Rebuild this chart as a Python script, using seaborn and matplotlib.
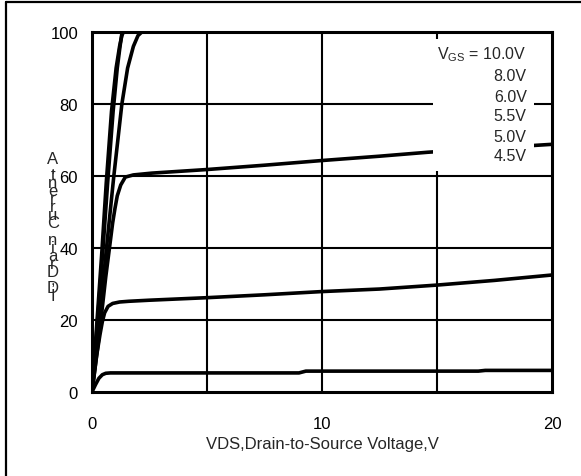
import numpy as np
import pandas as pd
import seaborn as sns
import matplotlib.pyplot as plt
from matplotlib.patches import Rectangle
from matplotlib.lines import Line2D

# curvas ID x VDS para cada VGS
vds_10 = [0, 0.2, 0.42, 0.62, 0.85, 1.05, 1.2, 1.3, 1.4]
id_10 = [0, 18, 38, 58, 78, 90, 96, 99, 100.5]

vds_8 = [0, 0.22, 0.46, 0.68, 0.92, 1.1, 1.22, 1.32]
id_8 = [0, 18, 38, 58, 78, 90, 96, 100.5]

vds_6 = [0, 0.3, 0.6, 0.95, 1.3, 1.55, 1.8, 2.0, 2.25]
id_6 = [0, 18, 38, 60, 80, 90, 96, 99, 100.5]

vds_55 = [0, 0.3, 0.6, 0.8, 0.9, 1.0, 1.1, 1.25, 1.45, 1.8, 2.6, 5, 7.5, 10, 12.5, 14.6, 17.5, 20]
id_55 = [0, 15, 32, 42, 47, 51, 54.5, 57.5, 59.7, 60.3, 60.8, 61.8, 63, 64.3, 65.5, 66.6, 67.8, 68.8]

vds_5 = [0, 0.2, 0.35, 0.45, 0.55, 0.7, 0.9, 1.2, 1.6, 2.5, 5, 7.5, 10, 12.5, 15, 17.5, 20]
id_5 = [0, 10, 16, 19.5, 22, 23.8, 24.6, 25, 25.2, 25.5, 26.2, 27, 27.9, 28.6, 29.7, 31, 32.5]

vds_45 = [0, 0.15, 0.3, 0.45, 0.6, 0.8, 1.5, 5, 9, 9.3, 16.8, 17.1, 20]
id_45 = [0, 2, 3.8, 4.8, 5.2, 5.3, 5.3, 5.3, 5.3, 5.8, 5.8, 6.0, 6.0]

vgs_labels = ['10.0V', '8.0V', '6.0V', '5.5V', '5.0V', '4.5V']
curves = [(vds_10, id_10), (vds_8, id_8), (vds_6, id_6),
          (vds_55, id_55), (vds_5, id_5), (vds_45, id_45)]

sns.set_style("white")
plt.rcParams['font.family'] = ['Liberation Sans', 'DejaVu Sans']
plt.rcParams['mathtext.fontset'] = 'custom'
plt.rcParams['mathtext.rm'] = 'Liberation Sans'

fig = plt.figure(figsize=(5.81, 4.77), dpi=100)
ax = fig.add_axes([0.1583, 0.1761, 0.7917, 0.7547])

for x, y in curves:
    sns.lineplot(x=x, y=y, ax=ax, color='black', linewidth=2.6,
                 sort=False, estimator=None, zorder=3)

ax.set_xlim(0, 20)
ax.set_ylim(0, 100)
ax.set_xticks([0, 10, 20])
ax.set_yticks([0, 20, 40, 60, 80, 100])

# grid
for gx in [5, 10, 15]:
    ax.axvline(gx, color='black', linewidth=1.5, zorder=1)
for gy in [20, 40, 60, 80]:
    ax.axhline(gy, color='black', linewidth=1.5, zorder=1)

for s in ax.spines.values():
    s.set_color('black')
    s.set_linewidth(2.2)
    s.set_zorder(4)

ax.tick_params(axis='both', length=0, labelsize=12, colors='black')
ax.tick_params(axis='x', pad=17)
ax.tick_params(axis='y', pad=10)

ax.set_xlabel('VDS,Drain-to-Source Voltage,V', fontsize=12, labelpad=4)
ax.set_ylabel('')

# legenda em caixa branca
ax.add_patch(Rectangle((14.83, 61.4), 4.39, 36.7, facecolor='white',
                       edgecolor='none', zorder=5))
ys = [93.9, 87.8, 82.2, 76.7, 71.1, 65.6]
for i, (lab, yy) in enumerate(zip(vgs_labels, ys)):
    txt = lab if i > 0 else r'V$_{\mathrm{GS}}$ = ' + lab
    ax.text(18.9, yy, txt, ha='right', va='center', fontsize=11.5, zorder=6)

# rotulo y empilhado (como no original)
ylab = 'ID,Drain Current,A'[::-1]
fig.text(53 / 581, 1 - 228 / 477, '\n'.join(list(ylab)), ha='center', va='center',
         fontsize=12, linespacing=0.42, multialignment='center')

# moldura externa
fig.add_artist(Line2D([6 / 581, 6 / 581], [0, 1 - 3 / 477], color='black', linewidth=1.6))
fig.add_artist(Line2D([6 / 581, 1], [1 - 3 / 477, 1 - 3 / 477], color='black', linewidth=1.6))

fig.savefig('out.png', dpi=100)
